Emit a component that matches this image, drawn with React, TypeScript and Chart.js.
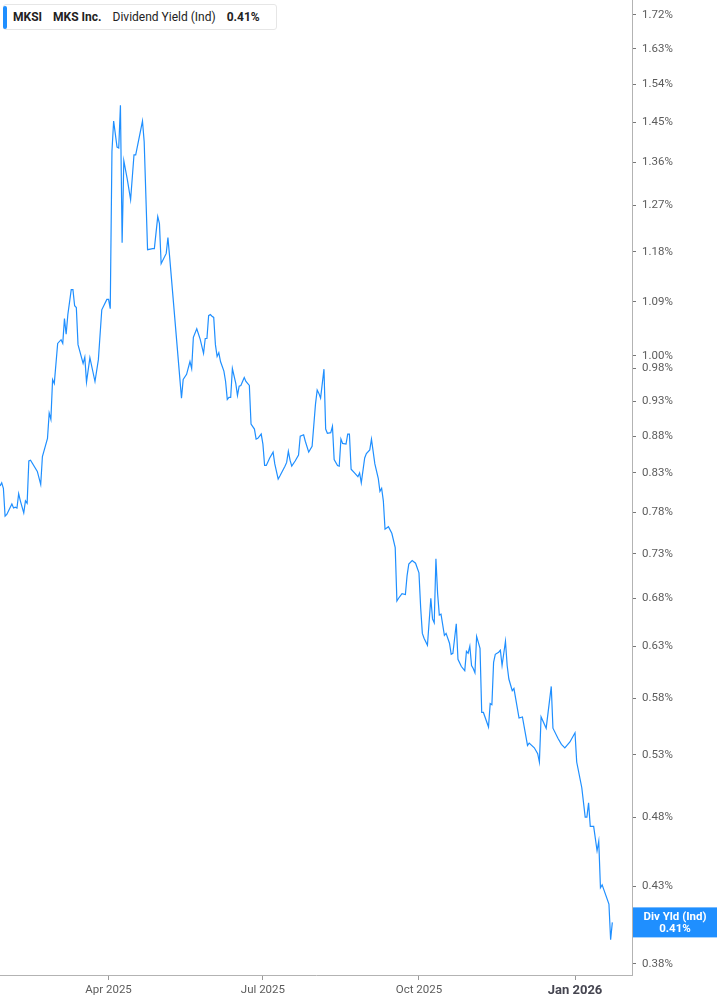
import { useEffect, useRef } from 'react';
import { Chart, registerables } from 'chart.js';

Chart.register(...registerables);

const START = Date.UTC(2025, 0, 27);
const DAY = 86400000;

// days since 27 Jan 2025, and the indicated dividend yield (%) on that day
const q1Days = [0, 1, 2, 3, 4, 7, 8, 9, 10, 11, 12, 14, 15, 16, 17, 18, 22, 24, 25, 28, 29, 30, 31, 32, 34, 36, 37, 38, 39, 40, 42, 43, 44, 45, 46, 49, 50, 51, 53, 56, 58, 60, 63];
const q1Yield = [0.813, 0.817, 0.81, 0.775, 0.777, 0.79, 0.785, 0.786, 0.785, 0.803, 0.794, 0.779, 0.794, 0.791, 0.846, 0.847, 0.832, 0.815, 0.852, 0.877, 0.913, 0.904, 0.963, 0.957, 1.02, 1.026, 1.02, 1.061, 1.035, 1.068, 1.111, 1.111, 1.083, 1.08, 1.018, 0.988, 0.998, 0.959, 0.997, 0.96, 0.994, 1.076, 1.094];

const q2Days = [64, 65, 66, 67, 69, 70, 71, 72, 73, 75, 77, 79, 80, 84, 85, 87, 90, 91, 93, 94, 95, 98, 99, 100, 107, 108, 110, 112, 113, 114, 116, 118, 120, 121, 122, 123, 124, 125, 126, 127, 128, 129, 130, 132, 133, 134, 135, 136, 137, 139, 140, 141, 142, 144, 145, 147, 148, 150, 151, 152, 154];
const q2Yield = [1.094, 1.078, 1.384, 1.453, 1.394, 1.392, 1.49, 1.197, 1.364, 1.325, 1.282, 1.377, 1.377, 1.453, 1.406, 1.184, 1.186, 1.186, 1.248, 1.234, 1.158, 1.177, 1.207, 1.171, 0.935, 0.963, 0.971, 0.991, 0.98, 1.03, 1.044, 1.027, 1.004, 1.028, 1.028, 1.066, 1.068, 1.065, 1.063, 1.018, 0.999, 1.005, 0.991, 0.976, 0.96, 0.933, 0.936, 0.936, 0.98, 0.957, 0.939, 0.953, 0.954, 0.966, 0.96, 0.954, 0.897, 0.89, 0.876, 0.877, 0.883];

const q3Days = [155, 156, 157, 159, 161, 162, 164, 165, 168, 169, 170, 171, 172, 174, 176, 177, 179, 180, 182, 184, 186, 187, 188, 189, 191, 192, 193, 195, 196, 197, 199, 200, 201, 202, 204, 205, 206, 207, 209, 211, 212, 213, 215, 216, 218, 219, 221, 223, 224, 225, 226, 227, 229, 231, 233, 234, 235, 237, 239, 240, 241, 243, 245];
const q3Yield = [0.869, 0.84, 0.84, 0.85, 0.858, 0.842, 0.822, 0.826, 0.839, 0.844, 0.859, 0.847, 0.839, 0.846, 0.854, 0.88, 0.882, 0.873, 0.858, 0.866, 0.926, 0.947, 0.942, 0.935, 0.979, 0.89, 0.884, 0.885, 0.894, 0.848, 0.84, 0.839, 0.876, 0.87, 0.869, 0.883, 0.883, 0.835, 0.83, 0.825, 0.83, 0.817, 0.85, 0.856, 0.861, 0.876, 0.842, 0.823, 0.806, 0.81, 0.794, 0.759, 0.762, 0.754, 0.737, 0.677, 0.68, 0.685, 0.684, 0.705, 0.718, 0.722, 0.719];

const q4Days = [247, 248, 249, 250, 252, 254, 255, 256, 257, 258, 259, 260, 262, 263, 265, 266, 267, 269, 270, 272, 274, 275, 276, 277, 278, 279, 280, 281, 283, 284, 285, 288, 289, 290, 291, 292, 294, 295, 296, 298, 299, 300, 302, 303, 306, 308, 311, 312, 315, 317, 318, 319, 322, 325, 326, 329, 331, 333, 336, 339, 340, 343, 345, 346, 347, 348, 350, 352, 353, 354, 355, 359, 360, 361];
const q4Yield = [0.708, 0.67, 0.643, 0.638, 0.631, 0.68, 0.658, 0.654, 0.724, 0.685, 0.662, 0.663, 0.641, 0.643, 0.633, 0.622, 0.623, 0.653, 0.617, 0.61, 0.606, 0.625, 0.623, 0.63, 0.611, 0.608, 0.604, 0.64, 0.628, 0.567, 0.567, 0.554, 0.575, 0.574, 0.614, 0.622, 0.624, 0.626, 0.611, 0.635, 0.611, 0.598, 0.587, 0.589, 0.562, 0.563, 0.538, 0.54, 0.536, 0.531, 0.524, 0.563, 0.553, 0.591, 0.553, 0.544, 0.539, 0.536, 0.541, 0.549, 0.524, 0.503, 0.48, 0.48, 0.491, 0.473, 0.473, 0.455, 0.462, 0.429, 0.431, 0.418, 0.395, 0.406];

const tickDates = ['2025-04-01', '2025-07-01', '2025-10-01', '2026-01-01'];
const tickLabels = ['Apr 2025', 'Jul 2025', 'Oct 2025', 'Jan 2026'];
const yTicks = [0.38, 0.43, 0.48, 0.53, 0.58, 0.63, 0.68, 0.73, 0.78, 0.83, 0.88, 0.93, 0.98, 1.0, 1.09, 1.18, 1.27, 1.36, 1.45, 1.54, 1.63, 1.72];

const LINE = '#1f8fff';
const FONT = 'Roboto, "Noto Sans", sans-serif';

const dayOf = (iso: string) => (Date.parse(iso) - START) / DAY;
const tickDays = tickDates.map(dayOf);

// blue tag on the right axis with the latest value
const lastValueTag = {
  id: 'lastValueTag',
  afterDraw(chart: any) {
    const { ctx, chartArea, scales } = chart;
    const pts = chart.data.datasets[0].data;
    const last = pts[pts.length - 1];
    const y = scales.y.getPixelForValue(last.y);
    const x0 = chartArea.right + 1;
    const w = chart.width - x0;
    ctx.save();
    ctx.fillStyle = LINE;
    ctx.fillRect(x0, y - 15, w, 30);
    ctx.fillStyle = '#fff';
    ctx.font = `bold 11.5px ${FONT}`;
    ctx.textAlign = 'center';
    ctx.textBaseline = 'middle';
    ctx.fillText('Div Yld (Ind)', x0 + w / 2, y - 5);
    ctx.fillText(last.y.toFixed(2) + '%', x0 + w / 2, y + 6.5);
    ctx.restore();
  },
};

function YieldChart() {
  const canvasRef = useRef<HTMLCanvasElement>(null);

  useEffect(() => {
    if (!canvasRef.current) return undefined;
    const days = [...q1Days, ...q2Days, ...q3Days, ...q4Days];
    const yields = [...q1Yield, ...q2Yield, ...q3Yield, ...q4Yield];
    const lastDay = tickDays[tickDays.length - 1];

    const chart = new Chart(canvasRef.current, {
      type: 'line',
      data: {
        datasets: [
          {
            data: days.map((d, i) => ({ x: d, y: yields[i] })),
            borderColor: LINE,
            borderWidth: 1.2,
            pointRadius: 0,
            tension: 0,
          },
        ],
      },
      options: {
        animation: false,
        responsive: false,
        layout: { padding: 0 },
        plugins: { legend: { display: false }, tooltip: { enabled: false } },
        scales: {
          x: {
            type: 'linear',
            min: 0,
            max: 372.6,
            afterFit: (s: any) => {
              s.height = 30;
              s.paddingLeft = 0;
              s.paddingRight = 0;
            },
            afterBuildTicks: (s: any) => { s.ticks = tickDays.map(v => ({ value: v })); },
            grid: { drawOnChartArea: false, tickLength: 5, color: '#999' },
            border: { color: '#b3b3b3' },
            ticks: {
              autoSkip: false,
              maxRotation: 0,
              padding: 3,
              color: (c: any) => (c.tick?.value === lastDay ? '#454550' : '#5c5c5c'),
              font: (c: any) =>
                c.tick?.value === lastDay
                  ? { family: FONT, size: 13, weight: 'bold' }
                  : { family: FONT, size: 11.5 },
              callback: (v: any) => tickLabels[tickDays.indexOf(Number(v))] ?? '',
            },
          },
          y: {
            type: 'logarithmic',
            position: 'right',
            min: 0.3734,
            max: 1.7615,
            afterFit: (s: any) => {
              s.width = 85;
              s.paddingTop = 0;
              s.paddingBottom = 0;
            },
            afterBuildTicks: (s: any) => { s.ticks = yTicks.map(v => ({ value: v })); },
            grid: { drawOnChartArea: false, tickLength: 4, color: '#777' },
            border: { color: '#b3b3b3' },
            ticks: {
              autoSkip: false,
              padding: 6,
              color: '#5c5c5c',
              font: { family: FONT, size: 11.5 },
              callback: (v: any) => Number(v).toFixed(2) + '%',
            },
          },
        },
      },
      plugins: [lastValueTag],
    });

    return () => chart.destroy();
  }, []);

  return <canvas ref={canvasRef} width={717} height={1005} style={{ display: 'block' }} />;
}

function Legend() {
  const item = { marginLeft: 11, whiteSpace: 'nowrap' as const };
  return (
    <div
      style={{
        position: 'absolute',
        left: 3,
        top: 4,
        width: 274,
        height: 26,
        boxSizing: 'border-box',
        background: '#fff',
        border: '1px solid #e6e6e6',
        borderRadius: 3,
        display: 'flex',
        alignItems: 'center',
        font: `12px ${FONT}`,
        color: '#222',
      }}
    >
      <div style={{ position: 'absolute', left: -1, top: 1, bottom: 0, width: 4, background: LINE, borderRadius: 2 }} />
      <span style={{ ...item, marginLeft: 9, fontWeight: 700 }}>MKSI</span>
      <span style={{ ...item, fontWeight: 700 }}>MKS Inc.</span>
      <span style={item}>Dividend Yield (Ind)</span>
      <span style={{ ...item, fontWeight: 700 }}>0.41%</span>
    </div>
  );
}

export default function App() {
  return (
    <div style={{ position: 'absolute', left: 0, top: 0, width: 717, height: 1005, background: '#fff' }}>
      <YieldChart />
      <Legend />
    </div>
  );
}
